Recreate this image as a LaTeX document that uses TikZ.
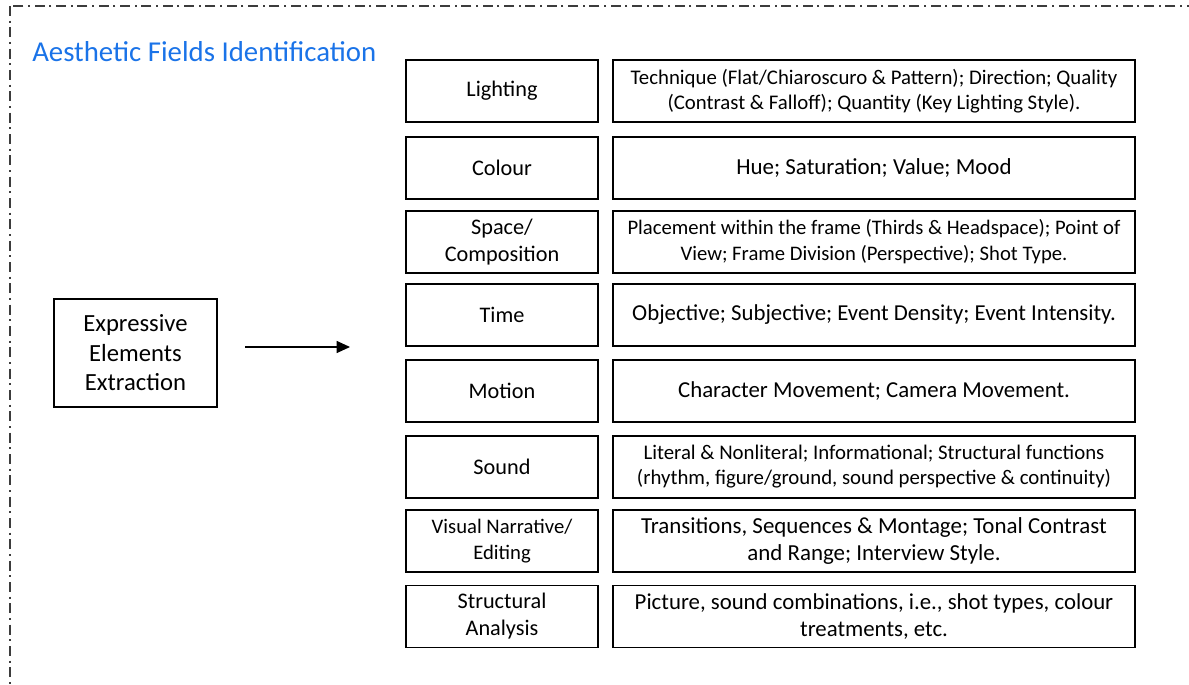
\documentclass[tikz,border=0pt]{standalone}
\usepackage{fontspec}
\setmainfont{Carlito}
\usetikzlibrary{arrows.meta}
\definecolor{titleblue}{RGB}{26,115,232}
\definecolor{framegray}{RGB}{60,60,60}
\tikzset{
  lbox/.style={draw=black, line width=1.1pt, rectangle, inner sep=0pt, align=center, minimum width=144pt, minimum height=46.5pt},
  rbox/.style={draw=black, line width=1.1pt, rectangle, inner sep=0pt, align=center, minimum width=391.5pt, minimum height=46.5pt}
}
\begin{document}
\begin{tikzpicture}[x=0.75pt,y=-0.75pt]
\useasboundingbox (0,0) rectangle (1189,685);
\begin{scope}
\clip (0,0) rectangle (1189,685);
\draw[framegray, line width=1.1pt, dash pattern=on 7.5pt off 3.5pt on 1.5pt off 3.5pt] (10,6) rectangle (1200,700);
\end{scope}
\node[anchor=base west, text=titleblue, font=\fontsize{21.6}{26}\selectfont, inner sep=0pt] (title) at (32,62) {Aesthetic Fields Identification};

\node[draw=black, line width=1.1pt, minimum width=122pt, minimum height=81pt, inner sep=0pt, align=center, font=\fontsize{18.5}{22.2}\selectfont] (expr) at (135.5,353) {Expressive\\Elements\\Extraction};
\coordinate (arrS) at (245,347);
\coordinate (arrE) at (350,347);
\draw[line width=0.8pt, -{Triangle[length=10pt,width=9pt]}] (arrS) -- (arrE);

% middle column
\node[lbox, font=\fontsize{16.7}{20.25}\selectfont] (m1) at (502,91) {Lighting};
\node[lbox, font=\fontsize{16.7}{20.25}\selectfont] (m2) at (502,168) {Colour};
\node[lbox, font=\fontsize{16.7}{20.25}\selectfont] (m3) at (502,242) {Space/\\Composition};
\node[lbox, font=\fontsize{16.7}{20.25}\selectfont] (m4) at (502,315) {Time};
\node[lbox, font=\fontsize{16.7}{20.25}\selectfont] (m5) at (502,391) {Motion};
\node[lbox, font=\fontsize{16.7}{20.25}\selectfont] (m6) at (502,467) {Sound};
\node[lbox, font=\fontsize{15.5}{19.5}\selectfont] (m7) at (502,541) {Visual Narrative/\\Editing};
\node[lbox, font=\fontsize{16.7}{20.25}\selectfont] (m8) at (502,616.5) {Structural\\Analysis};

% right column
\node[rbox, font=\fontsize{15.6}{18.75}\selectfont] (r1) at (874,91) {Technique (Flat/Chiaroscuro \& Pattern); Direction; Quality\\(Contrast \& Falloff); Quantity (Key Lighting Style).};
\node[rbox, font=\fontsize{17.2}{20}\selectfont] (r2) at (874,168) {Hue; Saturation; Value; Mood};
\node[rbox, font=\fontsize{15.5}{19.5}\selectfont] (r3) at (874,242) {Placement within the frame (Thirds \& Headspace); Point of\\View; Frame Division (Perspective); Shot Type.};
\node[rbox, font=\fontsize{17.1}{20}\selectfont] (r4) at (874,315) {Objective; Subjective; Event Density; Event Intensity.};
\node[rbox, font=\fontsize{17.1}{20}\selectfont] (r5) at (874,391) {Character Movement; Camera Movement.};
\node[rbox, font=\fontsize{15.6}{18.75}\selectfont] (r6) at (874,467) {Literal \& Nonliteral; Informational; Structural functions\\(rhythm, figure/ground, sound perspective \& continuity)};
\node[rbox, font=\fontsize{17.2}{20.25}\selectfont] (r7) at (874,541) {Transitions, Sequences \& Montage; Tonal Contrast\\and Range; Interview Style.};
\node[rbox, font=\fontsize{17.1}{20.25}\selectfont] (r8) at (874,616.5) {Picture, sound combinations, i.e., shot types, colour\\treatments, etc.};
\end{tikzpicture}
\end{document}
